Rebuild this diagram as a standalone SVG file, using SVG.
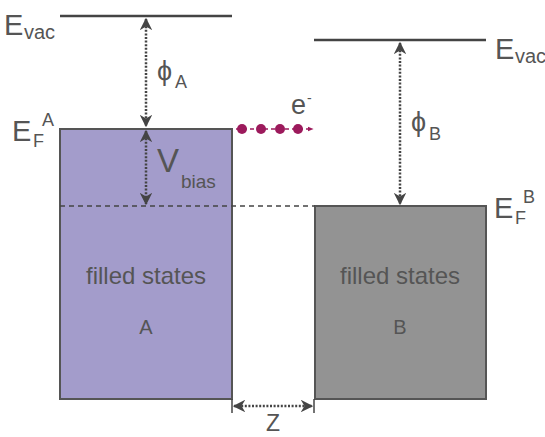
<svg xmlns="http://www.w3.org/2000/svg" width="545" height="437" viewBox="0 0 545 437">
<defs>
<style>
text{font-family:"Liberation Sans","DejaVu Sans",sans-serif;fill:#555}
.big{font-size:29px}
.sub{font-size:18px}
.mid{font-size:24px}
.lvl{stroke:#444;stroke-width:2.5;fill:none}
.dot{stroke:#444;stroke-width:2.5;stroke-dasharray:2 1.6;fill:none}
</style>
<marker id="ah" viewBox="0 0 10 10" refX="9" refY="5" markerWidth="5" markerHeight="5" orient="auto-start-reverse" markerUnits="strokeWidth">
<path d="M0,0 L10,5 L0,10 L3,5 Z" fill="#444"/>
</marker>
<marker id="eh" viewBox="0 0 10 10" refX="9" refY="5" markerWidth="4" markerHeight="4" orient="auto" markerUnits="strokeWidth">
<path d="M0,1 L10,5 L0,9 Z" fill="#9c1a5c"/>
</marker>
</defs>
<g id="boxA">
<rect x="60" y="129" width="172" height="270" fill="#a39ccb" stroke="#555" stroke-width="2"/>
<text class="mid" x="146" y="284" text-anchor="middle">filled states</text>
<text class="mid" x="146" y="334" text-anchor="middle" style="font-size:20px">A</text>
</g>
<g id="boxB">
<rect x="315" y="206" width="171" height="193" fill="#939393" stroke="#555" stroke-width="2"/>
<text class="mid" x="400" y="284" text-anchor="middle">filled states</text>
<text class="mid" x="400" y="334" text-anchor="middle" style="font-size:20px">B</text>
</g>
<g id="evacA">
<line class="lvl" x1="60" y1="16" x2="232" y2="16"/>
<text class="big" x="4" y="35">E</text><text class="sub" x="24" y="39" style="font-size:20px">vac</text>
</g>
<g id="evacB">
<line class="lvl" x1="314" y1="40" x2="486" y2="40"/>
<text class="big" x="495" y="59">E</text><text class="sub" x="515" y="63" style="font-size:20px">vac</text>
</g>
<g id="efA">
<text class="big" x="12" y="141">E</text><text class="sub" x="33" y="147">F</text><text class="sub" x="42" y="126">A</text>
</g>
<g id="efB">
<text class="big" x="494" y="218">E</text><text class="sub" x="515" y="224">F</text><text class="sub" x="523" y="203">B</text>
</g>
<g id="connectors">
<line x1="60" y1="206" x2="315" y2="206" stroke="#444" stroke-width="1.5" stroke-dasharray="5 4"/>
<line class="dot" x1="146" y1="19" x2="146" y2="126" marker-start="url(#ah)" marker-end="url(#ah)"/>
<line class="dot" x1="146" y1="131" x2="146" y2="204" marker-start="url(#ah)" marker-end="url(#ah)"/>
<line class="dot" x1="400" y1="43" x2="400" y2="204" marker-start="url(#ah)" marker-end="url(#ah)"/>
<line class="dot" x1="234" y1="406" x2="312" y2="406" marker-start="url(#ah)" marker-end="url(#ah)"/>
<line x1="232" y1="399" x2="232" y2="413" stroke="#444" stroke-width="1.5"/>
<line x1="314" y1="399" x2="314" y2="413" stroke="#444" stroke-width="1.5"/>
<line x1="236" y1="129" x2="313" y2="129" stroke="#9c1a5c" stroke-width="1.5" stroke-dasharray="4 3" marker-end="url(#eh)"/>
</g>
<g id="electrons" fill="#9c1a5c">
<circle cx="242" cy="129" r="5"/><circle cx="261" cy="129" r="5"/><circle cx="280" cy="129" r="5"/><circle cx="298" cy="129" r="5"/>
<text class="big" x="291" y="114" style="font-size:27px">e</text><text class="sub" x="307" y="103" style="font-size:14px">-</text>
</g>
<g id="labels">
<text class="big" x="157" y="80" style="font-size:27px">ϕ</text><text class="sub" x="175" y="88">A</text>
<text class="big" x="157" y="172" style="font-size:33px">V</text><text class="sub" x="181" y="188" style="font-size:19px">bias</text>
<text class="big" x="411" y="131" style="font-size:27px">ϕ</text><text class="sub" x="429" y="140">B</text>
<text class="mid" x="273" y="431" style="font-size:23px" text-anchor="middle">Z</text>
</g>
</svg>
